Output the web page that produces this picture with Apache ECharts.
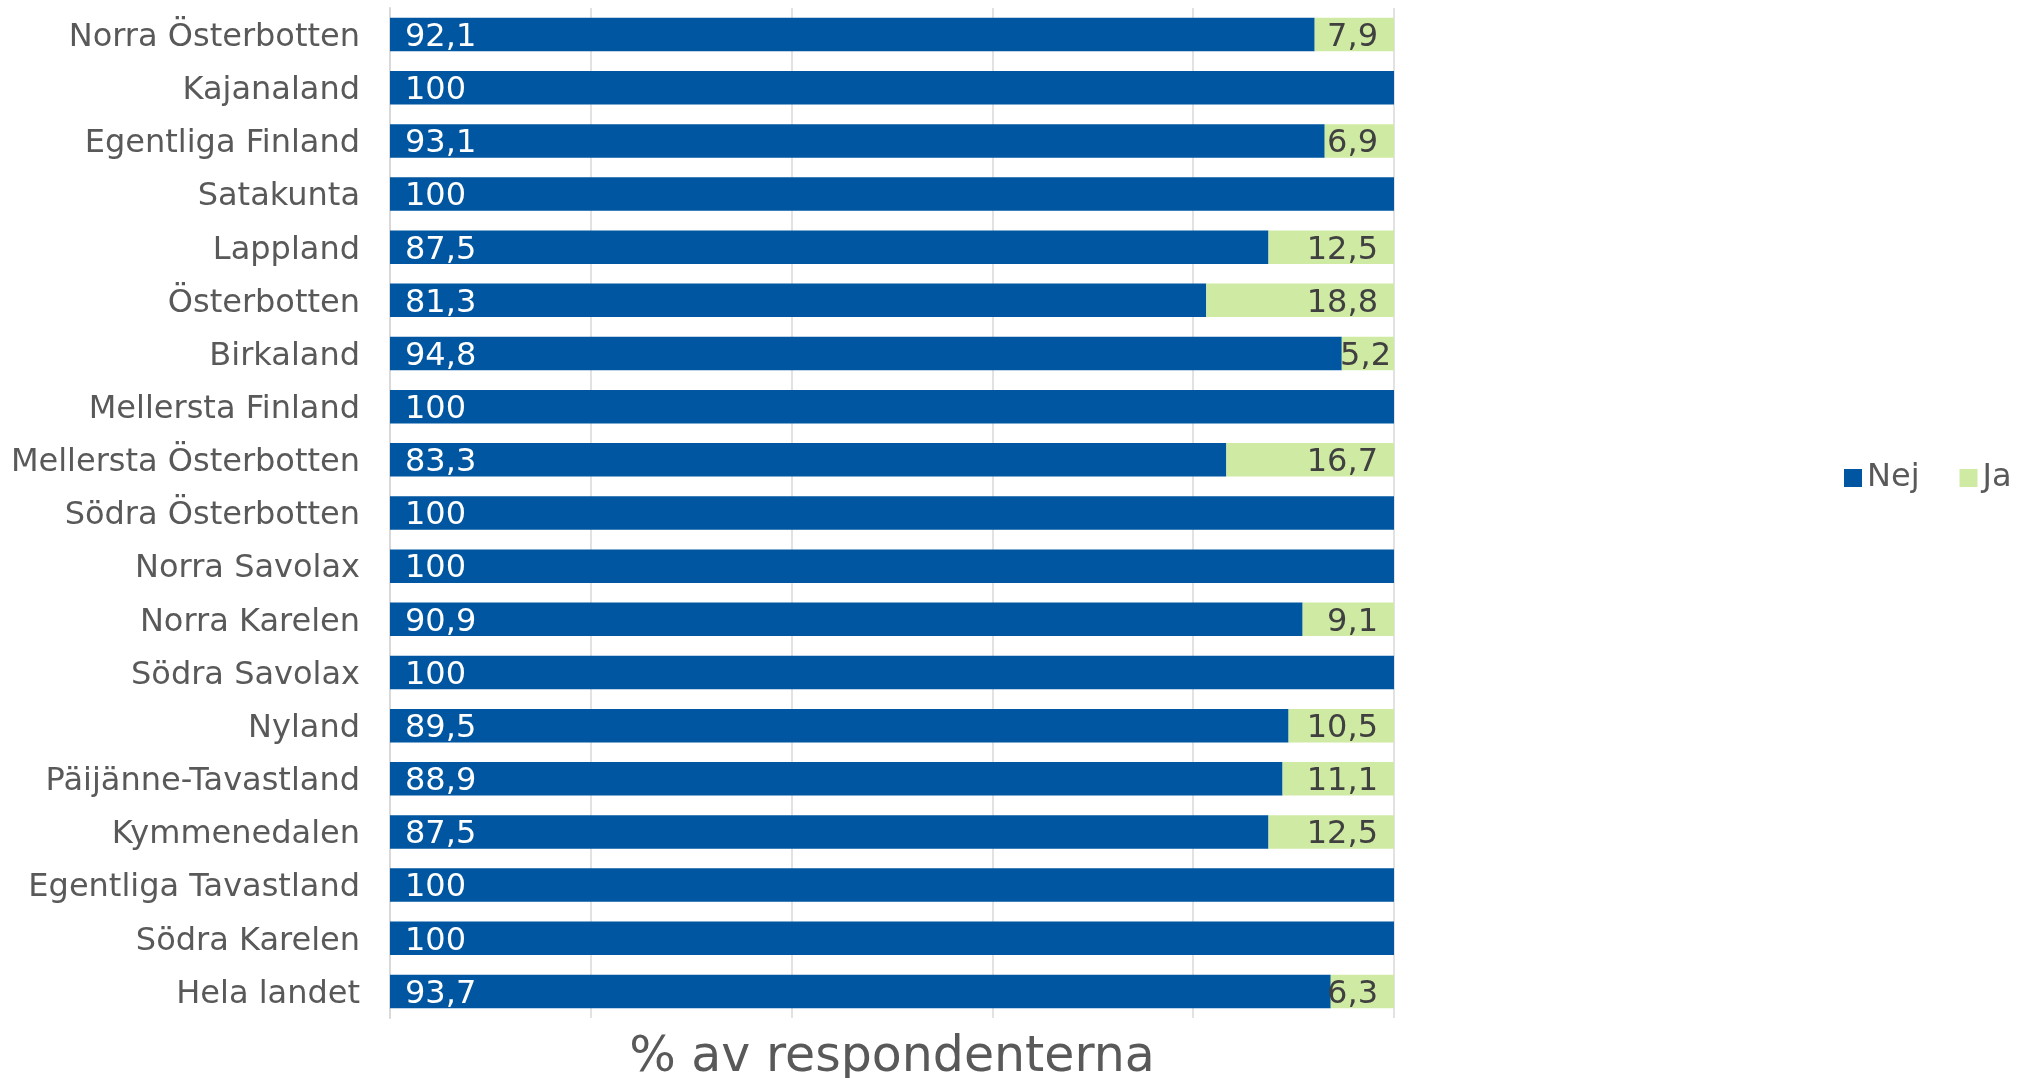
<!DOCTYPE html>
<html><head><meta charset="utf-8">
<script src="https://cdn.jsdelivr.net/npm/echarts@6/dist/echarts.min.js"></script>
<style>html,body{margin:0;padding:0;background:#fff;}#c{width:2020px;height:1078px;}</style>
</head><body><div id="c"></div>
<script>
const categories = ["Norra Österbotten","Kajanaland","Egentliga Finland","Satakunta","Lappland","Österbotten","Birkaland","Mellersta Finland","Mellersta Österbotten","Södra Österbotten","Norra Savolax","Norra Karelen","Södra Savolax","Nyland","Päijänne-Tavastland","Kymmenedalen","Egentliga Tavastland","Södra Karelen","Hela landet"];
const nejValues = [92.1,100,93.1,100,87.5,81.3,94.8,100,83.3,100,100,90.9,100,89.5,88.9,87.5,100,100,93.7];
const jaValues = [7.9,null,6.9,null,12.5,18.8,5.2,null,16.7,null,null,9.1,null,10.5,11.1,12.5,null,null,6.3];
const seriesNames = ["Nej","Ja"];
const axisTitle = "% av respondenterna";

const FONT = "DejaVu Sans";
const fmt = p => p.value == null ? '' : String(p.value).replace('.', ',');
const chart = echarts.init(document.getElementById('c'), null, {renderer:'canvas'});
chart.setOption({
  animation:false,
  grid:{left:390,right:626,top:8,bottom:60,containLabel:false,outerBoundsMode:'none'},
  legend:{orient:'horizontal',left:1839,top:457,width:400,itemWidth:18,itemHeight:18,itemGap:40,icon:'rect',
    textStyle:{fontFamily:FONT,fontSize:32,color:'#595959',padding:[4,0,0,0]},data:seriesNames},
  xAxis:{type:'value',min:0,max:100,interval:20,
    axisLabel:{show:false},axisTick:{show:false},axisLine:{show:false},
    splitLine:{show:true,lineStyle:{color:'#d9d9d9',width:1.5}},
    name:axisTitle,nameLocation:'middle',nameGap:16,
    nameTextStyle:{fontFamily:FONT,fontSize:49,color:'#595959'}},
  yAxis:{type:'category',data:categories,inverse:true,
    axisLine:{show:true,lineStyle:{color:'#d9d9d9',width:2}},axisTick:{show:false},
    axisLabel:{margin:30,formatter:v => '{a|' + v + '}',
      rich:{a:{fontFamily:FONT,fontSize:32,color:'#595959',padding:[6,0,0,0]}}}},
  series:[
    {name:seriesNames[0],type:'bar',stack:'s',barWidth:'63%',data:nejValues,
      itemStyle:{color:'#0056A0'},
      label:{show:true,position:'insideLeft',distance:15,formatter:fmt,offset:[0,3],
        fontFamily:FONT,fontSize:32,color:'#ffffff'}},
    {name:seriesNames[1],type:'bar',stack:'s',barWidth:'63%',
      data:jaValues.map(v => (v != null && v < 6) ? {value:v,label:{distance:3}} : v),
      itemStyle:{color:'#CFEAA3'},
      label:{show:true,position:'insideRight',distance:16,formatter:fmt,offset:[0,3],
        fontFamily:FONT,fontSize:32,color:'#404040'}}
  ]
});
</script></body></html>
